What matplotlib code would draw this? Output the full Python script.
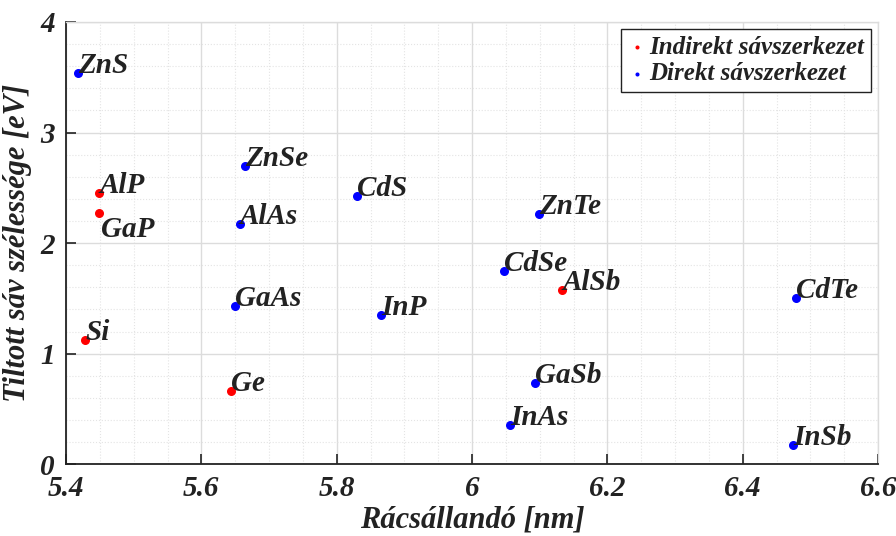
import matplotlib
matplotlib.use("Agg")
import matplotlib.pyplot as plt
from matplotlib.ticker import MultipleLocator

# anyagok: rácsállandó [nm], tiltott sáv [eV]
indirect_names = ["AlP", "GaP", "Si", "Ge", "AlSb"]
indirect_a = [5.449, 5.449, 5.428, 5.644, 6.133]
indirect_eg = [2.45, 2.27, 1.12, 0.66, 1.58]

direct_names = ["ZnS", "ZnSe", "AlAs", "GaAs", "CdS", "InP", "ZnTe",
                "CdSe", "GaSb", "InAs", "CdTe", "InSb"]
direct_a = [5.418, 5.665, 5.657, 5.650, 5.830, 5.866, 6.099,
            6.047, 6.093, 6.056, 6.479, 6.474]
direct_eg = [3.54, 2.70, 2.17, 1.43, 2.43, 1.35, 2.26,
             1.745, 0.73, 0.35, 1.50, 0.17]

x_ticks = [5.4, 5.6, 5.8, 6.0, 6.2, 6.4, 6.6]
x_ticklabels = ["5.4", "5.6", "5.8", "6", "6.2", "6.4", "6.6"]
y_ticks = [0, 1, 2, 3, 4]

FONT = "Liberation Serif"
plt.rcParams['font.family'] = [FONT, 'DejaVu Serif']
plt.rcParams['font.weight'] = 'bold'
plt.rcParams['font.style'] = 'italic'
plt.rcParams['axes.labelweight'] = 'bold'

fig = plt.figure(figsize=(8.96, 5.36), dpi=100)
ax = fig.add_axes([0.0737, 0.134, 0.9063, 0.825])

ax.scatter(indirect_a, indirect_eg, s=30, color='#ff0000', zorder=3,
           label="Indirekt sávszerkezet")
ax.scatter(direct_a, direct_eg, s=30, color='#0000ff', zorder=3,
           label="Direkt sávszerkezet")

def put_labels(names, xs, ys):
    for n, x, y in zip(names, xs, ys):
        if n == "GaP":
            ax.annotate(n, (x, y), xytext=(1, -2), textcoords='offset points',
                        ha='left', va='top', fontsize=21, fontweight='bold',
                        color='#222222')
        else:
            ax.annotate(n, (x, y), xytext=(0, 0), textcoords='offset points',
                        ha='left', va='baseline', fontsize=21, fontweight='bold',
                        color='#222222')

put_labels(indirect_names, indirect_a, indirect_eg)
put_labels(direct_names, direct_a, direct_eg)

ax.set_xlim(5.4, 6.6)
ax.set_ylim(0, 4)
ax.set_xticks(x_ticks)
ax.set_xticklabels(x_ticklabels)
ax.set_yticks(y_ticks)
ax.xaxis.set_minor_locator(MultipleLocator(0.05))
ax.yaxis.set_minor_locator(MultipleLocator(0.2))

ax.grid(True, which='major', color='#dcdcdc', linewidth=1.0, linestyle='-')
ax.grid(True, which='minor', color='#e4e4e4', linewidth=0.8, linestyle=':')
ax.set_axisbelow(True)

ax.tick_params(which='major', direction='in', length=7, width=1.2,
               labelsize=21, colors='#222222', pad=8)
ax.tick_params(which='minor', length=0)
for s in ['left', 'bottom']:
    ax.spines[s].set_color('#222222')
    ax.spines[s].set_linewidth(1.3)
for s in ['top', 'right']:
    ax.spines[s].set_color('#dcdcdc')
    ax.spines[s].set_linewidth(1.0)

ax.set_xlabel("Rácsállandó [nm]", fontsize=22, color='#222222', labelpad=2)
ax.set_ylabel("Tiltott sáv szélessége [eV]", fontsize=22, color='#222222', labelpad=6)

leg = ax.legend(loc='upper right', fontsize=18, markerscale=0.35,
                handletextpad=0.1, handlelength=0.8, borderpad=0.25,
                labelspacing=0.15, fancybox=False, framealpha=1,
                edgecolor='#222222', borderaxespad=0.3)
leg.get_frame().set_linewidth(1.0)
for t in leg.get_texts():
    t.set_color('#222222')

fig.savefig("out.png", dpi=100)
